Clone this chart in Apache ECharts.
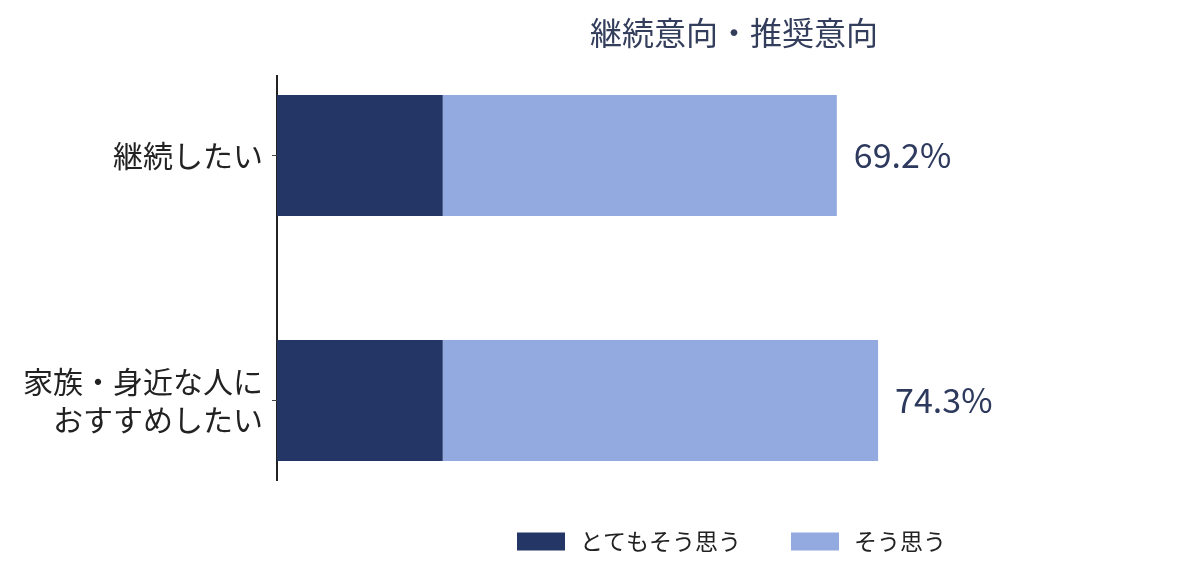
<!DOCTYPE html>
<html><head><meta charset="utf-8">
<script src="https://cdn.jsdelivr.net/npm/echarts@6/dist/echarts.min.js"></script>
<style>html,body{margin:0;padding:0;background:#fff}#c{width:1200px;height:586px}</style>
</head><body><div id="c"></div>
<script>
const categories = ['継続したい', '家族・身近な人に\nおすすめしたい'];
const strongly = [20.5, 20.5];
const agree = [48.7, 53.8];
const totals = ['69.2%', '74.3%'];
const seriesNames = ['とてもそう思う', 'そう思う'];
const font = '"Noto Sans CJK JP", "Noto Sans", sans-serif';
const chart = echarts.init(document.getElementById('c'));
chart.setOption({
  animation: false,
  textStyle: {fontFamily: font},
  title: {text: '継続意向・推奨意向', left: 729, top: 12, textAlign: 'center',
    textStyle: {fontSize: 32, fontWeight: 'normal', color: '#333d5c', fontFamily: font}},
  legend: {bottom: 28, left: 512, icon: 'rect', itemWidth: 48, itemHeight: 18, itemGap: 50,
    textStyle: {fontSize: 23, color: '#222', padding: [0, 0, 0, 10], fontFamily: font},
    data: seriesNames},
  graphic: [{type: 'line', shape: {x1: 277, y1: 75, x2: 277, y2: 481},
    style: {stroke: '#222', lineWidth: 2}}],
  grid: {left: 277, right: 114, top: 33, bottom: 63},
  xAxis: {type: 'value', min: 0, max: 100, show: false},
  yAxis: {type: 'category', inverse: true, data: categories,
    axisLine: {show: false},
    axisTick: {show: true, alignWithLabel: true, length: 5, lineStyle: {color: '#444'}},
    axisLabel: {fontSize: 30, color: '#222', lineHeight: 38, margin: 14, fontFamily: font}},
  series: [
    {name: seriesNames[0], type: 'bar', stack: 's', data: strongly, barWidth: 121,
      itemStyle: {color: '#243665'}},
    {name: seriesNames[1], type: 'bar', stack: 's', data: agree, barWidth: 121,
      itemStyle: {color: '#92aadf'},
      label: {show: true, position: 'right', distance: 17, fontSize: 34, color: '#2d3a5e',
        fontFamily: font, formatter: p => totals[p.dataIndex]}}
  ]
});
</script></body></html>
